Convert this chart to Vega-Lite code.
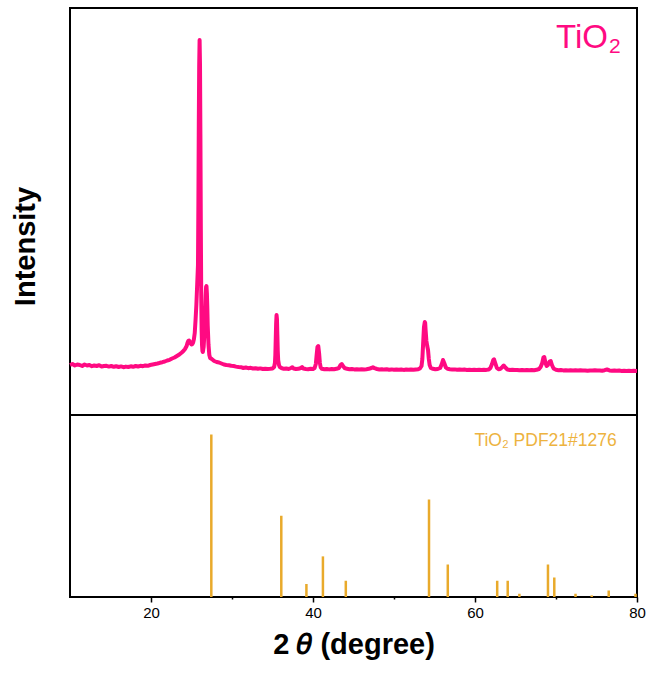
{
  "$schema": "https://vega.github.io/schema/vega-lite/v6.json",
  "padding": {"left": 10, "top": 7, "right": 0, "bottom": 5},
  "background": "white",
  "bounds": "flush",
  "spacing": 0,
  "config": {
    "font": "Liberation Sans",
    "view": {"stroke": "black", "strokeWidth": 2}
  },
  "datasets": {
    "xrd": [
      {"two_theta": 10.0, "intensity": 500}, {"two_theta": 10.3, "intensity": 510}, {"two_theta": 10.6, "intensity": 495},
      {"two_theta": 10.9, "intensity": 505}, {"two_theta": 11.2, "intensity": 500}, {"two_theta": 11.5, "intensity": 490},
      {"two_theta": 11.8, "intensity": 505}, {"two_theta": 12.1, "intensity": 495}, {"two_theta": 12.4, "intensity": 500},
      {"two_theta": 12.7, "intensity": 488}, {"two_theta": 13.0, "intensity": 495}, {"two_theta": 13.3, "intensity": 490},
      {"two_theta": 13.6, "intensity": 498}, {"two_theta": 13.9, "intensity": 485}, {"two_theta": 14.2, "intensity": 490},
      {"two_theta": 14.5, "intensity": 492}, {"two_theta": 14.8, "intensity": 484}, {"two_theta": 15.1, "intensity": 490},
      {"two_theta": 15.4, "intensity": 482}, {"two_theta": 15.7, "intensity": 488}, {"two_theta": 16.0, "intensity": 480},
      {"two_theta": 16.3, "intensity": 486}, {"two_theta": 16.6, "intensity": 478}, {"two_theta": 16.9, "intensity": 484},
      {"two_theta": 17.2, "intensity": 480}, {"two_theta": 17.5, "intensity": 487}, {"two_theta": 17.8, "intensity": 482},
      {"two_theta": 18.1, "intensity": 490}, {"two_theta": 18.4, "intensity": 485}, {"two_theta": 18.7, "intensity": 492},
      {"two_theta": 19.0, "intensity": 488}, {"two_theta": 19.3, "intensity": 495}, {"two_theta": 19.6, "intensity": 492},
      {"two_theta": 19.9, "intensity": 500}, {"two_theta": 20.2, "intensity": 505}, {"two_theta": 20.5, "intensity": 510},
      {"two_theta": 20.8, "intensity": 515}, {"two_theta": 21.1, "intensity": 522}, {"two_theta": 21.4, "intensity": 528},
      {"two_theta": 21.7, "intensity": 535}, {"two_theta": 22.0, "intensity": 545}, {"two_theta": 22.3, "intensity": 552},
      {"two_theta": 22.6, "intensity": 565}, {"two_theta": 22.9, "intensity": 575}, {"two_theta": 23.2, "intensity": 590},
      {"two_theta": 23.5, "intensity": 605}, {"two_theta": 23.8, "intensity": 625}, {"two_theta": 24.0, "intensity": 640},
      {"two_theta": 24.2, "intensity": 660}, {"two_theta": 24.4, "intensity": 690}, {"two_theta": 24.5, "intensity": 720},
      {"two_theta": 24.6, "intensity": 740}, {"two_theta": 24.7, "intensity": 745}, {"two_theta": 24.8, "intensity": 730},
      {"two_theta": 24.9, "intensity": 715}, {"two_theta": 25.0, "intensity": 705}, {"two_theta": 25.1, "intensity": 710},
      {"two_theta": 25.2, "intensity": 725}, {"two_theta": 25.3, "intensity": 760}, {"two_theta": 25.4, "intensity": 820},
      {"two_theta": 25.5, "intensity": 950}, {"two_theta": 25.6, "intensity": 1100}, {"two_theta": 25.7, "intensity": 1300},
      {"two_theta": 25.8, "intensity": 1500}, {"two_theta": 25.85, "intensity": 2100}, {"two_theta": 25.9, "intensity": 2900},
      {"two_theta": 25.95, "intensity": 3500}, {"two_theta": 26.0, "intensity": 3750}, {"two_theta": 26.05, "intensity": 3500},
      {"two_theta": 26.1, "intensity": 2800}, {"two_theta": 26.15, "intensity": 1900}, {"two_theta": 26.2, "intensity": 1200},
      {"two_theta": 26.25, "intensity": 850}, {"two_theta": 26.3, "intensity": 700}, {"two_theta": 26.35, "intensity": 640},
      {"two_theta": 26.4, "intensity": 630}, {"two_theta": 26.5, "intensity": 680}, {"two_theta": 26.6, "intensity": 820},
      {"two_theta": 26.7, "intensity": 1050}, {"two_theta": 26.75, "intensity": 1200}, {"two_theta": 26.8, "intensity": 1280},
      {"two_theta": 26.85, "intensity": 1290}, {"two_theta": 26.9, "intensity": 1220}, {"two_theta": 26.95, "intensity": 1080},
      {"two_theta": 27.0, "intensity": 900}, {"two_theta": 27.1, "intensity": 700}, {"two_theta": 27.2, "intensity": 600},
      {"two_theta": 27.3, "intensity": 570}, {"two_theta": 27.5, "intensity": 560}, {"two_theta": 27.8, "intensity": 540},
      {"two_theta": 28.1, "intensity": 530}, {"two_theta": 28.4, "intensity": 525}, {"two_theta": 28.7, "intensity": 515},
      {"two_theta": 29.0, "intensity": 505}, {"two_theta": 29.3, "intensity": 500}, {"two_theta": 29.6, "intensity": 498},
      {"two_theta": 29.9, "intensity": 492}, {"two_theta": 30.2, "intensity": 490}, {"two_theta": 30.5, "intensity": 484},
      {"two_theta": 30.8, "intensity": 480}, {"two_theta": 31.1, "intensity": 478}, {"two_theta": 31.4, "intensity": 470},
      {"two_theta": 31.7, "intensity": 475}, {"two_theta": 32.0, "intensity": 468}, {"two_theta": 32.3, "intensity": 472},
      {"two_theta": 32.6, "intensity": 465}, {"two_theta": 32.9, "intensity": 468}, {"two_theta": 33.2, "intensity": 462},
      {"two_theta": 33.5, "intensity": 466}, {"two_theta": 33.8, "intensity": 460}, {"two_theta": 34.1, "intensity": 463},
      {"two_theta": 34.4, "intensity": 460}, {"two_theta": 34.7, "intensity": 462}, {"two_theta": 35.0, "intensity": 465},
      {"two_theta": 35.2, "intensity": 480}, {"two_theta": 35.3, "intensity": 520}, {"two_theta": 35.35, "intensity": 600},
      {"two_theta": 35.4, "intensity": 760}, {"two_theta": 35.45, "intensity": 920}, {"two_theta": 35.5, "intensity": 1000},
      {"two_theta": 35.55, "intensity": 960}, {"two_theta": 35.6, "intensity": 800}, {"two_theta": 35.65, "intensity": 640},
      {"two_theta": 35.7, "intensity": 550}, {"two_theta": 35.8, "intensity": 500}, {"two_theta": 35.9, "intensity": 480},
      {"two_theta": 36.1, "intensity": 470}, {"two_theta": 36.4, "intensity": 462}, {"two_theta": 36.7, "intensity": 465},
      {"two_theta": 37.0, "intensity": 460}, {"two_theta": 37.3, "intensity": 470}, {"two_theta": 37.45, "intensity": 478},
      {"two_theta": 37.6, "intensity": 465}, {"two_theta": 37.9, "intensity": 460}, {"two_theta": 38.2, "intensity": 462},
      {"two_theta": 38.5, "intensity": 470}, {"two_theta": 38.65, "intensity": 480}, {"two_theta": 38.8, "intensity": 465},
      {"two_theta": 39.1, "intensity": 460}, {"two_theta": 39.4, "intensity": 458}, {"two_theta": 39.7, "intensity": 462},
      {"two_theta": 40.0, "intensity": 460}, {"two_theta": 40.2, "intensity": 470}, {"two_theta": 40.35, "intensity": 510},
      {"two_theta": 40.45, "intensity": 600}, {"two_theta": 40.55, "intensity": 680}, {"two_theta": 40.65, "intensity": 690},
      {"two_theta": 40.75, "intensity": 620}, {"two_theta": 40.85, "intensity": 520}, {"two_theta": 40.95, "intensity": 475},
      {"two_theta": 41.1, "intensity": 462}, {"two_theta": 41.4, "intensity": 458}, {"two_theta": 41.7, "intensity": 460},
      {"two_theta": 42.0, "intensity": 456}, {"two_theta": 42.3, "intensity": 460}, {"two_theta": 42.6, "intensity": 458},
      {"two_theta": 42.9, "intensity": 462}, {"two_theta": 43.2, "intensity": 470}, {"two_theta": 43.4, "intensity": 500},
      {"two_theta": 43.55, "intensity": 510}, {"two_theta": 43.7, "intensity": 490}, {"two_theta": 43.9, "intensity": 470},
      {"two_theta": 44.2, "intensity": 462}, {"two_theta": 44.5, "intensity": 458}, {"two_theta": 44.8, "intensity": 460},
      {"two_theta": 45.1, "intensity": 456}, {"two_theta": 45.4, "intensity": 458}, {"two_theta": 45.7, "intensity": 455},
      {"two_theta": 46.0, "intensity": 458}, {"two_theta": 46.3, "intensity": 455}, {"two_theta": 46.6, "intensity": 458},
      {"two_theta": 46.9, "intensity": 462}, {"two_theta": 47.2, "intensity": 470}, {"two_theta": 47.4, "intensity": 478},
      {"two_theta": 47.6, "intensity": 468}, {"two_theta": 47.9, "intensity": 460}, {"two_theta": 48.2, "intensity": 455},
      {"two_theta": 48.5, "intensity": 458}, {"two_theta": 48.8, "intensity": 454}, {"two_theta": 49.1, "intensity": 457},
      {"two_theta": 49.4, "intensity": 453}, {"two_theta": 49.7, "intensity": 456}, {"two_theta": 50.0, "intensity": 452},
      {"two_theta": 50.3, "intensity": 455}, {"two_theta": 50.6, "intensity": 452}, {"two_theta": 50.9, "intensity": 455},
      {"two_theta": 51.2, "intensity": 451}, {"two_theta": 51.5, "intensity": 454}, {"two_theta": 51.8, "intensity": 452},
      {"two_theta": 52.1, "intensity": 455}, {"two_theta": 52.4, "intensity": 453}, {"two_theta": 52.7, "intensity": 456},
      {"two_theta": 53.0, "intensity": 458}, {"two_theta": 53.2, "intensity": 465}, {"two_theta": 53.4, "intensity": 490},
      {"two_theta": 53.5, "intensity": 560}, {"two_theta": 53.6, "intensity": 720}, {"two_theta": 53.7, "intensity": 880},
      {"two_theta": 53.8, "intensity": 930}, {"two_theta": 53.85, "intensity": 920}, {"two_theta": 53.9, "intensity": 850},
      {"two_theta": 54.0, "intensity": 740}, {"two_theta": 54.1, "intensity": 690}, {"two_theta": 54.2, "intensity": 650},
      {"two_theta": 54.3, "intensity": 560}, {"two_theta": 54.4, "intensity": 500}, {"two_theta": 54.55, "intensity": 470},
      {"two_theta": 54.8, "intensity": 462}, {"two_theta": 55.1, "intensity": 458}, {"two_theta": 55.4, "intensity": 460},
      {"two_theta": 55.7, "intensity": 470}, {"two_theta": 55.9, "intensity": 510}, {"two_theta": 56.05, "intensity": 550},
      {"two_theta": 56.2, "intensity": 520}, {"two_theta": 56.4, "intensity": 475}, {"two_theta": 56.6, "intensity": 462},
      {"two_theta": 56.9, "intensity": 458}, {"two_theta": 57.2, "intensity": 455}, {"two_theta": 57.5, "intensity": 456},
      {"two_theta": 57.8, "intensity": 452}, {"two_theta": 58.1, "intensity": 455}, {"two_theta": 58.4, "intensity": 452},
      {"two_theta": 58.7, "intensity": 454}, {"two_theta": 59.0, "intensity": 451}, {"two_theta": 59.3, "intensity": 453},
      {"two_theta": 59.6, "intensity": 450}, {"two_theta": 59.9, "intensity": 453}, {"two_theta": 60.2, "intensity": 451},
      {"two_theta": 60.5, "intensity": 453}, {"two_theta": 60.8, "intensity": 450}, {"two_theta": 61.1, "intensity": 452},
      {"two_theta": 61.4, "intensity": 451}, {"two_theta": 61.7, "intensity": 455}, {"two_theta": 61.9, "intensity": 470},
      {"two_theta": 62.1, "intensity": 510}, {"two_theta": 62.25, "intensity": 550}, {"two_theta": 62.35, "intensity": 557},
      {"two_theta": 62.5, "intensity": 520}, {"two_theta": 62.7, "intensity": 470}, {"two_theta": 62.9, "intensity": 458},
      {"two_theta": 63.1, "intensity": 460}, {"two_theta": 63.35, "intensity": 478}, {"two_theta": 63.55, "intensity": 495},
      {"two_theta": 63.75, "intensity": 475}, {"two_theta": 64.0, "intensity": 455}, {"two_theta": 64.3, "intensity": 450},
      {"two_theta": 64.6, "intensity": 452}, {"two_theta": 64.9, "intensity": 449}, {"two_theta": 65.2, "intensity": 451},
      {"two_theta": 65.5, "intensity": 448}, {"two_theta": 65.8, "intensity": 451}, {"two_theta": 66.1, "intensity": 448},
      {"two_theta": 66.4, "intensity": 450}, {"two_theta": 66.7, "intensity": 447}, {"two_theta": 67.0, "intensity": 450},
      {"two_theta": 67.3, "intensity": 448}, {"two_theta": 67.6, "intensity": 452}, {"two_theta": 67.9, "intensity": 460},
      {"two_theta": 68.1, "intensity": 480}, {"two_theta": 68.3, "intensity": 520}, {"two_theta": 68.45, "intensity": 575},
      {"two_theta": 68.55, "intensity": 580}, {"two_theta": 68.7, "intensity": 520}, {"two_theta": 68.85, "intensity": 490},
      {"two_theta": 69.0, "intensity": 500}, {"two_theta": 69.2, "intensity": 535}, {"two_theta": 69.35, "intensity": 540},
      {"two_theta": 69.5, "intensity": 500}, {"two_theta": 69.7, "intensity": 465}, {"two_theta": 70.0, "intensity": 452},
      {"two_theta": 70.3, "intensity": 448}, {"two_theta": 70.6, "intensity": 450}, {"two_theta": 70.9, "intensity": 446},
      {"two_theta": 71.2, "intensity": 448}, {"two_theta": 71.5, "intensity": 445}, {"two_theta": 71.8, "intensity": 448},
      {"two_theta": 72.1, "intensity": 446}, {"two_theta": 72.4, "intensity": 448}, {"two_theta": 72.7, "intensity": 445},
      {"two_theta": 73.0, "intensity": 447}, {"two_theta": 73.3, "intensity": 444}, {"two_theta": 73.6, "intensity": 446},
      {"two_theta": 73.9, "intensity": 443}, {"two_theta": 74.2, "intensity": 446}, {"two_theta": 74.5, "intensity": 444},
      {"two_theta": 74.8, "intensity": 447}, {"two_theta": 75.1, "intensity": 444}, {"two_theta": 75.4, "intensity": 446},
      {"two_theta": 75.7, "intensity": 443}, {"two_theta": 76.0, "intensity": 448}, {"two_theta": 76.3, "intensity": 455},
      {"two_theta": 76.6, "intensity": 446}, {"two_theta": 76.9, "intensity": 443}, {"two_theta": 77.2, "intensity": 445},
      {"two_theta": 77.5, "intensity": 442}, {"two_theta": 77.8, "intensity": 444}, {"two_theta": 78.1, "intensity": 441},
      {"two_theta": 78.4, "intensity": 443}, {"two_theta": 78.7, "intensity": 440}, {"two_theta": 79.0, "intensity": 442},
      {"two_theta": 79.3, "intensity": 440}, {"two_theta": 79.6, "intensity": 442}, {"two_theta": 80.0, "intensity": 440}
    ],
    "pdf": [
      {"two_theta": 27.446, "rel_intensity": 100}, {"two_theta": 36.085, "rel_intensity": 50},
      {"two_theta": 39.187, "rel_intensity": 8}, {"two_theta": 41.225, "rel_intensity": 25},
      {"two_theta": 44.05, "rel_intensity": 10}, {"two_theta": 54.322, "rel_intensity": 60},
      {"two_theta": 56.64, "rel_intensity": 20}, {"two_theta": 62.74, "rel_intensity": 10},
      {"two_theta": 64.038, "rel_intensity": 10}, {"two_theta": 65.478, "rel_intensity": 2},
      {"two_theta": 69.008, "rel_intensity": 20}, {"two_theta": 69.788, "rel_intensity": 12},
      {"two_theta": 72.408, "rel_intensity": 2}, {"two_theta": 74.409, "rel_intensity": 1},
      {"two_theta": 76.508, "rel_intensity": 4}, {"two_theta": 79.819, "rel_intensity": 2}
    ]
  },
  "vconcat": [
    {
      "width": 567,
      "height": 407,
      "layer": [
        {
          "data": {"name": "xrd"},
          "mark": {"type": "line", "color": "#FF0A82", "strokeWidth": 4, "strokeJoin": "round"},
          "encoding": {
            "x": {"field": "two_theta", "type": "quantitative", "scale": {"domain": [10, 80], "nice": false}, "axis": null},
            "y": {
              "field": "intensity", "type": "quantitative", "scale": {"domain": [0, 4070], "nice": false},
              "axis": {
                "title": "Intensity", "labels": false, "ticks": false, "domain": false, "grid": false,
                "titleFontSize": 29, "titleFontWeight": "bold", "titleColor": "black",
                "titlePadding": 30, "titleY": 238
              }
            }
          }
        },
        {
          "data": {"values": [{"two_theta": 76.42, "intensity": 3670, "label": "TiO"}]},
          "mark": {"type": "text", "color": "#FF0A82", "fontSize": 33, "align": "right", "baseline": "alphabetic"},
          "encoding": {
            "x": {"field": "two_theta", "type": "quantitative"},
            "y": {"field": "intensity", "type": "quantitative"},
            "text": {"field": "label"}
          }
        },
        {
          "data": {"values": [{"two_theta": 76.42, "intensity": 3620, "label": "2"}]},
          "mark": {"type": "text", "color": "#FF0A82", "fontSize": 21, "align": "left", "baseline": "alphabetic", "dx": 1},
          "encoding": {
            "x": {"field": "two_theta", "type": "quantitative"},
            "y": {"field": "intensity", "type": "quantitative"},
            "text": {"field": "label"}
          }
        }
      ]
    },
    {
      "width": 567,
      "height": 182,
      "layer": [
        {
          "data": {"name": "pdf"},
          "mark": {"type": "rule", "color": "#E9AA2B", "strokeWidth": 2.5},
          "encoding": {
            "x": {
              "field": "two_theta", "type": "quantitative", "scale": {"domain": [10, 80], "nice": false},
              "axis": {
                "values": [20, 30, 40, 50, 60, 70, 80],
                "labelExpr": "datum.value % 20 === 0 ? datum.label : ''",
                "tickSize": {"condition": {"test": "datum.value % 20 === 0", "value": 5}, "value": 2},
                "tickColor": "black", "tickWidth": 1.5, "domain": false, "grid": false,
                "labelFontSize": 15, "labelColor": "black", "labelFlush": false, "labelPadding": 3,
                "title": "2 𝜃 (degree)", "titleFontSize": 29, "titleFontWeight": "bold", "titleColor": "black",
                "titlePadding": 10
              }
            },
            "y": {"field": "rel_intensity", "type": "quantitative", "scale": {"domain": [0, 112], "nice": false}, "axis": null},
            "y2": {"datum": 0}
          }
        },
        {
          "data": {"values": [{"two_theta": 77.5, "rel_intensity": 96, "label": "TiO₂ PDF21#1276"}]},
          "mark": {"type": "text", "color": "#EDB33F", "fontSize": 17.5, "align": "right", "baseline": "middle"},
          "encoding": {
            "x": {"field": "two_theta", "type": "quantitative"},
            "y": {"field": "rel_intensity", "type": "quantitative"},
            "text": {"field": "label"}
          }
        }
      ]
    }
  ]
}
